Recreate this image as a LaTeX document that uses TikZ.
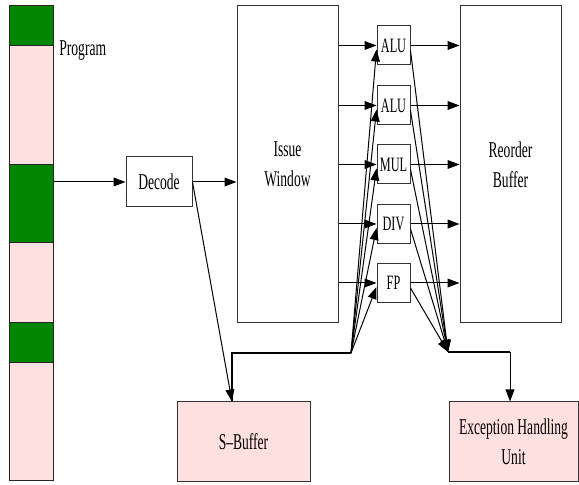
\documentclass[tikz,border=0pt]{standalone}
\usepackage{fontspec}
\setmainfont[FakeStretch=0.6]{Liberation Serif}
\usetikzlibrary{arrows.meta}
\definecolor{progGreen}{RGB}{0,134,0}
\definecolor{bufPink}{RGB}{255,224,224}
\tikzset{
	box/.style={draw=black!80, line width=0.5pt, inner sep=0pt, align=center, font=\fontsize{11.3}{15}\selectfont},
	fu/.style={box, minimum width=16.5pt, minimum height=19.5pt, font=\fontsize{10.2}{12}\selectfont},
	seg/.style={draw=black!85, line width=0.5pt, minimum width=22pt, inner sep=0pt},
	arr/.style={-{Triangle[length=6pt,width=4.4pt]}, line width=0.5pt},
	bus/.style={line width=1.2pt},
}

\begin{document}
\begin{tikzpicture}[x=0.5pt,y=-0.5pt]
		\useasboundingbox (0,0) rectangle (579,485);
		% program bar
		\foreach \i/\a/\b/\c in {1/6/46/progGreen, 2/46/165/bufPink, 3/165/243/progGreen, 4/243/323/bufPink, 5/323/363/progGreen, 6/363/481/bufPink}
			\node[seg, fill=\c, minimum height={(\b-\a)*0.5pt}] (seg\i) at (31,{(\a+\b)/2}) {};
		\node[anchor=base west, inner sep=0pt, font=\fontsize{11.3}{15}\selectfont] (proglabel) at (59,56) {Program};
		% pipeline boxes
		\node[box, minimum width=33pt, minimum height=25pt] (decode) at (159,182) {Decode};
		\node[box, minimum width=50.5pt, minimum height=158.5pt] (issue) at (287.5,164.5) {Issue\\Window};
		\node[box, minimum width=50.5pt, minimum height=158.5pt] (rob) at (510.5,164.5) {Reorder\\Buffer};
		\foreach \n/\t/\y in {alu1/ALU/45.5, alu2/ALU/105.5, mul/MUL/164.5, div/DIV/224, fp/FP/283}
			\node[fu] (\n) at (393.5,\y) {\t};
		\node[box, fill=bufPink, minimum width=66.5pt, minimum height=40pt] (sbuf) at (243.5,442) {S--Buffer};
		\node[box, fill=bufPink, minimum width=64.5pt, minimum height=40pt] (exc) at (513.5,442) {Exception Handling\\Unit};
		% bus corners
		\coordinate (sbus) at (351,353);
		\coordinate (sturn) at (232,353);
		\coordinate (ebus) at (448,352);
		\coordinate (eturn) at (510,352);
		% connectors
		\draw[arr] (seg3.east |- decode.west) -- (decode.west);
		\draw[arr] (decode.east) -- (decode.east -| issue.west);
		\draw[arr] (decode.east) -- (sturn |- sbuf.north);
		\draw[bus] (sbus) -- (sturn) -- (sturn |- sbuf.north);
		\foreach \n in {alu1,alu2,mul,div,fp}{
			\draw[arr] (issue.east |- \n.west) -- (\n.west);
			\draw[arr] (\n.east) -- (\n.east -| rob.west);
			\draw[arr] (sbus) -- ([yshift=-2pt]\n.west);
			\draw[arr] ([yshift=-2.5pt]\n.east) -- (ebus);
		}
		\draw[bus] (ebus) -- (eturn);
		\draw[arr] (eturn) -- (eturn |- exc.north);
	\end{tikzpicture}
\end{document}
